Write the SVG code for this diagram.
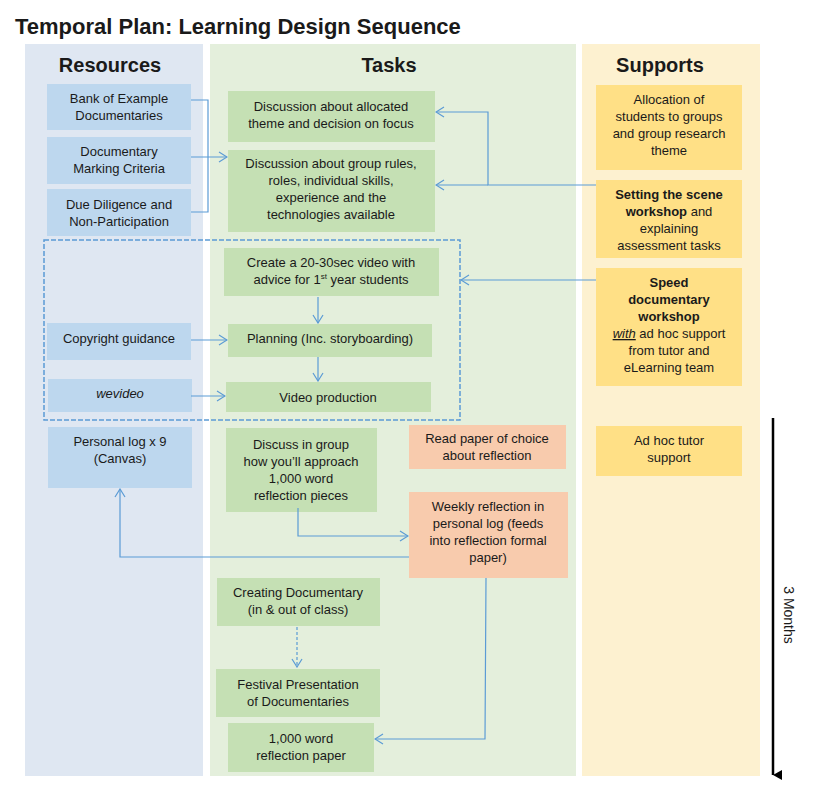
<svg xmlns="http://www.w3.org/2000/svg" width="822" height="792" viewBox="0 0 822 792">
<style>
text{font-family:"Liberation Sans",Arial,sans-serif;font-size:13px;fill:#1a1a1a;text-anchor:middle}
.h{font-size:20px;font-weight:bold}
.b{fill:#bdd7ee}.g{fill:#c5e0b4}.o{fill:#f8cbad}.y{fill:#ffe086}
.c{fill:none;stroke:#5b9bd5;stroke-width:1.2}
</style>
<defs><marker id="a" markerWidth="10" markerHeight="12" refX="9" refY="6" orient="auto" markerUnits="userSpaceOnUse"><path d="M1,1 L9,6 L1,11" fill="none" stroke="#5b9bd5" stroke-width="1.2"/></marker>
<marker id="k" markerWidth="10" markerHeight="10" refX="5" refY="9" orient="auto" markerUnits="userSpaceOnUse"><path d="M0,0 L5,9 L10,0 Z" fill="#000"/></marker></defs>
<rect width="822" height="792" fill="#fff"/>
<text x="15" y="34" style="font-size:22px;font-weight:bold;text-anchor:start">Temporal Plan: Learning Design Sequence</text>
<rect x="25" y="44" width="178" height="732" fill="#dfe7f2"/>
<rect x="210" y="44" width="366" height="732" fill="#e4efdc"/>
<rect x="582" y="44" width="178" height="732" fill="#fdf1d0"/>
<text class="h" x="110" y="72">Resources</text>
<text class="h" x="389" y="72">Tasks</text>
<text class="h" x="660" y="72">Supports</text>
<g id="r1"><rect class="b" x="47" y="84" width="144" height="46"/><text x="119" y="103">Bank of Example</text><text x="119" y="120">Documentaries</text></g>
<g id="r2"><rect class="b" x="47" y="137" width="144" height="47"/><text x="119" y="156">Documentary</text><text x="119" y="173">Marking Criteria</text></g>
<g id="r3"><rect class="b" x="47" y="189" width="144" height="47"/><text x="119" y="209">Due Diligence and</text><text x="119" y="226">Non-Participation</text></g>
<g id="r4"><rect class="b" x="47" y="323" width="144" height="37"/><text x="119" y="343">Copyright guidance</text></g>
<g id="r5"><rect class="b" x="48" y="379" width="144" height="33"/><text x="120" y="398" font-style="italic">wevideo</text></g>
<g id="r6"><rect class="b" x="48" y="427" width="144" height="61"/><text x="120" y="446">Personal log x 9</text><text x="120" y="463">(Canvas)</text></g>
<g id="t1"><rect class="g" x="228" y="91" width="207" height="51"/><text x="331" y="111">Discussion about allocated</text><text x="331" y="128">theme and decision on focus</text></g>
<g id="t2"><rect class="g" x="228" y="150" width="207" height="82"/><text x="331" y="168">Discussion about group rules,</text><text x="331" y="185">roles, individual skills,</text><text x="331" y="202">experience and the</text><text x="331" y="219">technologies available</text></g>
<g id="t3"><rect class="g" x="224" y="248" width="215" height="48"/><text x="331" y="267">Create a 20-30sec video with</text><text x="331" y="284">advice for 1<tspan font-size="8" dy="-5">st</tspan><tspan dy="5"> year students</tspan></text></g>
<g id="t4"><rect class="g" x="228" y="324" width="204" height="33"/><text x="330" y="343">Planning (Inc. storyboarding)</text></g>
<g id="t5"><rect class="g" x="226" y="382" width="205" height="30"/><text x="328" y="402">Video production</text></g>
<g id="t6"><rect class="g" x="226" y="428" width="151" height="84"/><text x="301" y="449">Discuss in group</text><text x="301" y="466">how you’ll approach</text><text x="301" y="483">1,000 word</text><text x="301" y="500">reflection pieces</text></g>
<g id="t7"><rect class="o" x="409" y="425" width="157" height="44"/><text x="487" y="443">Read paper of choice</text><text x="487" y="460">about reflection</text></g>
<g id="t8"><rect class="o" x="409" y="492" width="159" height="86"/><text x="488" y="511">Weekly reflection in</text><text x="488" y="528">personal log (feeds</text><text x="488" y="545">into reflection formal</text><text x="488" y="562">paper)</text></g>
<g id="t9"><rect class="g" x="217" y="578" width="163" height="48"/><text x="298" y="597">Creating Documentary</text><text x="298" y="614">(in &amp; out of class)</text></g>
<g id="t10"><rect class="g" x="216" y="669" width="164" height="48"/><text x="298" y="689">Festival Presentation</text><text x="298" y="706">of Documentaries</text></g>
<g id="t11"><rect class="g" x="228" y="723" width="146" height="49"/><text x="301" y="743">1,000 word</text><text x="301" y="760">reflection paper</text></g>
<g id="s1"><rect class="y" x="596" y="85" width="146" height="85"/><text x="669" y="104">Allocation of</text><text x="669" y="121">students to groups</text><text x="669" y="138">and group research</text><text x="669" y="155">theme</text></g>
<g id="s2"><rect class="y" x="596" y="180" width="146" height="78"/><text x="669" y="199" font-weight="bold">Setting the scene</text><text x="669" y="216"><tspan font-weight="bold">workshop</tspan> and</text><text x="669" y="233">explaining</text><text x="669" y="250">assessment tasks</text></g>
<g id="s3"><rect class="y" x="596" y="268" width="146" height="118"/><text x="669" y="287" font-weight="bold">Speed</text><text x="669" y="304" font-weight="bold">documentary</text><text x="669" y="321" font-weight="bold">workshop</text><text x="669" y="338"><tspan font-style="italic" text-decoration="underline">with</tspan> ad hoc support</text><text x="669" y="355">from tutor and</text><text x="669" y="372">eLearning team</text></g>
<g id="s4"><rect class="y" x="596" y="426" width="146" height="50"/><text x="669" y="445">Ad hoc tutor</text><text x="669" y="462">support</text></g>
<rect x="44" y="240" width="416" height="180" fill="none" stroke="#5b9bd5" stroke-width="1.5" stroke-dasharray="5,2"/>
<g id="connectors">
<path class="c" d="M191,100 H208 V212 H191"/>
<path class="c" d="M191,157 H227" marker-end="url(#a)"/>
<path class="c" d="M596,185 H488 V112 H436" marker-end="url(#a)"/>
<path class="c" d="M488,185 H436" marker-end="url(#a)"/>
<path class="c" d="M596,280 H461" marker-end="url(#a)"/>
<path class="c" d="M318,297 V323" marker-end="url(#a)"/>
<path class="c" d="M318,357 V381" marker-end="url(#a)"/>
<path class="c" d="M191,340 H227" marker-end="url(#a)"/>
<path class="c" d="M191,396 H225" marker-end="url(#a)"/>
<path class="c" d="M298,508 V536 H408" marker-end="url(#a)"/>
<path class="c" d="M409,557 H120 V489" marker-end="url(#a)"/>
<path class="c" d="M297,627 V667" stroke-dasharray="3,2" marker-end="url(#a)"/>
<path class="c" d="M486,578 L485,739 H375" marker-end="url(#a)"/>
<path d="M773,418 V775" stroke="#000" stroke-width="2.5" marker-end="url(#k)"/>
</g>
<text transform="translate(784,615) rotate(90)" style="font-size:14px">3 Months</text>
</svg>
